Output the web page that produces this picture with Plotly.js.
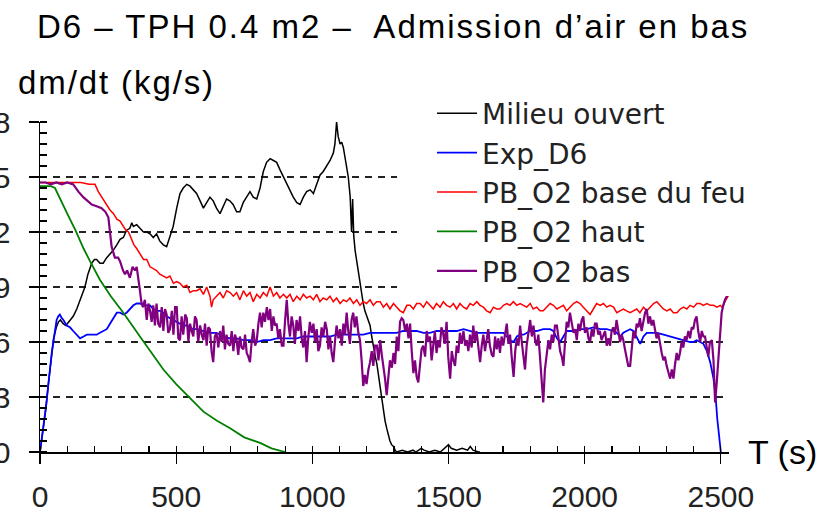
<!DOCTYPE html>
<html>
<head>
<meta charset="utf-8">
<script src="https://cdn.plot.ly/plotly-3.0.1.min.js"></script>
<style>
  html, body { margin: 0; padding: 0; background: #fff; }
  #chart { width: 825px; height: 514px; }
  .gtitle { letter-spacing: 2px; }
  .annotation[data-index="0"] .annotation-text { letter-spacing: 1.9px; }
</style>
</head>
<body>
<div id="chart"></div>
<script>
// ---- Data (time in s, dm/dt in kg/s) ----
const seriesNames = ["Milieu ouvert", "Exp_D6", "PB_O2 base du feu", "PB_O2 haut", "PB_O2 bas"];
const seriesColors = ["#000000", "#0000ff", "#ff0000", "#008000", "#800080"];

const tMilieu = [0,10,20,30,40,50,60,68,75,85,95,105,115,122,135,147,158,165,176,184,190,200,208,220,232,245,257,269,282,294,306,318,330,337,343,355,367,380,392,404,416,428,440,453,465,477,489,502,514,526,539,551,563,575,588,600,612,624,636,648,661,673,685,697,709,722,734,746,759,771,783,796,808,820,832,845,857,869,881,894,906,918,930,943,955,967,979,992,1004,1016,1028,1040,1053,1065,1077,1083,1089,1095,1102,1108,1114,1120,1126,1132,1139,1144,1148,1152,1157,1163,1169,1175,1181,1187,1193,1200,1206,1212,1218,1224,1230,1237,1243,1249,1255,1261,1267,1273,1279,1285,1291,1298,1304,1310,1330,1350,1370,1380,1400,1410,1430,1450,1470,1490,1500,1510,1530,1550,1570,1580,1590,1610,1616];
const yMilieu = [0,0.0010,0.0022,0.0036,0.0050,0.0062,0.0068,0.0071,0.0072,0.0070,0.0069,0.0071,0.0073,0.0074,0.0078,0.0083,0.0087,0.0090,0.0097,0.0101,0.0103,0.0105,0.0105,0.0103,0.0103,0.0106,0.0108,0.0110,0.0113,0.0116,0.0117,0.0121,0.0122,0.0125,0.0123,0.0124,0.0122,0.0120,0.0120,0.0119,0.0117,0.0119,0.0115,0.0113,0.0112,0.0118,0.0123,0.0133,0.0141,0.0144,0.0146,0.0145,0.0143,0.0141,0.0137,0.0133,0.0136,0.0139,0.0137,0.0133,0.0130,0.0134,0.0138,0.0137,0.0135,0.0131,0.0131,0.0136,0.0139,0.0142,0.0139,0.0138,0.0144,0.0153,0.0158,0.0160,0.0159,0.0158,0.0154,0.0150,0.0146,0.0142,0.0139,0.0136,0.0135,0.0139,0.0142,0.0143,0.0141,0.0146,0.0151,0.0153,0.0156,0.0159,0.0163,0.0168,0.0180,0.0172,0.0168,0.0169,0.0166,0.0160,0.0155,0.0150,0.0139,0.0120,0.0138,0.0118,0.0110,0.0104,0.0099,0.0093,0.0088,0.0081,0.0077,0.0074,0.0071,0.0069,0.0063,0.0057,0.0053,0.0048,0.0042,0.0035,0.0028,0.0022,0.0017,0.0013,0.0009,0.0006,0.0004,0.0003,0.0001,0,0.0001,0,0.0001,0,0.0002,0.0001,0,0.0001,0,0.0003,0.0004,0.0002,0.0001,0.0002,0.0001,0.0003,0.0001,0,0];

const tExp = [0,6,12,18,24,30,37,43,49,55,61,67,73,80,86,98,110,122,135,147,160,172,184,196,208,220,233,245,257,270,282,294,306,318,330,343,355,367,380,392,404,416,428,441,453,465,477,490,502,514,526,539,551,563,575,600,624,648,673,698,722,747,771,796,820,845,869,894,918,943,967,992,1016,1040,1065,1089,1114,1138,1163,1187,1212,1236,1261,1285,1310,1334,1359,1383,1408,1432,1456,1481,1506,1530,1555,1579,1604,1628,1653,1677,1702,1714,1726,1739,1751,1763,1776,1800,1824,1848,1873,1885,1898,1910,1922,1934,1959,1983,2008,2032,2057,2081,2106,2118,2130,2142,2154,2167,2179,2191,2204,2216,2228,2241,2265,2290,2314,2339,2363,2387,2399,2411,2424,2436,2449,2461,2473,2481,2487,2493,2497,2500];
const yExp = [0,0.0007,0.0012,0.0018,0.0027,0.0036,0.0047,0.0054,0.0060,0.0066,0.0072,0.0074,0.0075,0.0073,0.0072,0.0069,0.0068,0.0066,0.0064,0.0062,0.0063,0.0064,0.0064,0.0064,0.0064,0.0065,0.0066,0.0067,0.0070,0.0073,0.0076,0.0076,0.0075,0.0076,0.0078,0.0080,0.0081,0.0081,0.0080,0.0080,0.0080,0.0078,0.0077,0.0077,0.0076,0.0074,0.0073,0.0072,0.0071,0.0070,0.0069,0.0069,0.0068,0.0067,0.0067,0.0066,0.0065,0.0065,0.0063,0.0062,0.0062,0.0061,0.0061,0.0060,0.0061,0.0061,0.0062,0.0062,0.0062,0.0062,0.0063,0.0063,0.0063,0.0063,0.0063,0.0064,0.0064,0.0064,0.0064,0.0064,0.0065,0.0065,0.0065,0.0065,0.0065,0.0066,0.0066,0.0066,0.0065,0.0065,0.0066,0.0066,0.0066,0.0066,0.0067,0.0066,0.0065,0.0065,0.0065,0.0065,0.0065,0.0063,0.0061,0.0060,0.0063,0.0064,0.0064,0.0066,0.0066,0.0067,0.0067,0.0066,0.0062,0.0060,0.0063,0.0066,0.0066,0.0067,0.0067,0.0068,0.0067,0.0067,0.0066,0.0065,0.0063,0.0065,0.0066,0.0067,0.0066,0.0063,0.0059,0.0063,0.0065,0.0065,0.0065,0.0064,0.0063,0.0062,0.0061,0.0060,0.0060,0.0061,0.0060,0.0059,0.0055,0.0049,0.0040,0.0030,0.0018,0.0009,0.0003,0];

const tBase = [0,50,100,150,180,202,214,226,240,257,270,282,294,305,315,325,335,345,355,367,380,392,404,416,428,440,453,465,477,490,502,514,526,539,551,563,575,588,600,612,624,630,636,648,661,673,685,698,710,722,734,747,759,771,783,796,808,820,833,845,857,869,881,894,906,918,930,943,955,967,979,992,1004,1016,1028,1040,1053,1065,1077,1089,1102,1114,1126,1138,1151,1163,1175,1187,1199,1212,1224,1236,1249,1261,1273,1285,1298,1310,1322,1334,1347,1359,1371,1383,1396,1408,1420,1432,1444,1456,1469,1481,1493,1506,1518,1530,1542,1555,1567,1579,1591,1604,1616,1628,1640,1653,1665,1677,1689,1702,1714,1726,1738,1751,1763,1775,1787,1800,1811,1824,1836,1848,1860,1873,1885,1898,1910,1922,1934,1946,1959,1971,1983,1995,2008,2020,2032,2044,2057,2069,2081,2093,2106,2118,2130,2142,2154,2167,2179,2191,2203,2216,2228,2240,2253,2265,2277,2289,2302,2314,2326,2339,2351,2363,2375,2387,2400,2412,2424,2436,2449,2461,2473,2486,2498,2505,2515,2525,2534];
const yBase = [0.0147,0.0147,0.0147,0.0147,0.0146,0.0146,0.0142,0.0139,0.0136,0.0132,0.0130,0.0127,0.0126,0.0123,0.0121,0.0120,0.0116,0.0113,0.0111,0.0108,0.0105,0.0105,0.0101,0.0100,0.0099,0.0097,0.0096,0.0095,0.0096,0.0092,0.0093,0.0092,0.0090,0.0091,0.0087,0.0088,0.0088,0.0089,0.0086,0.0090,0.0085,0.0079,0.0083,0.0085,0.0087,0.0084,0.0088,0.0087,0.0085,0.0087,0.0083,0.0088,0.0085,0.0087,0.0082,0.0086,0.0084,0.0087,0.0085,0.0090,0.0085,0.0087,0.0084,0.0086,0.0084,0.0086,0.0082,0.0085,0.0083,0.0086,0.0084,0.0085,0.0083,0.0086,0.0082,0.0084,0.0083,0.0085,0.0082,0.0084,0.0081,0.0083,0.0082,0.0084,0.0081,0.0083,0.0080,0.0082,0.0081,0.0083,0.0080,0.0082,0.0082,0.0079,0.0081,0.0078,0.0081,0.0079,0.0077,0.0076,0.0080,0.0080,0.0078,0.0081,0.0081,0.0079,0.0082,0.0080,0.0078,0.0081,0.0079,0.0082,0.0080,0.0079,0.0081,0.0078,0.0081,0.0079,0.0078,0.0081,0.0080,0.0082,0.0080,0.0079,0.0077,0.0076,0.0079,0.0078,0.0078,0.0080,0.0081,0.0080,0.0082,0.0080,0.0081,0.0080,0.0079,0.0081,0.0078,0.0079,0.0077,0.0077,0.0079,0.0081,0.0080,0.0078,0.0079,0.0080,0.0077,0.0079,0.0081,0.0082,0.0081,0.0079,0.0077,0.0075,0.0078,0.0081,0.0080,0.0081,0.0079,0.0080,0.0079,0.0076,0.0077,0.0078,0.0077,0.0076,0.0077,0.0078,0.0076,0.0079,0.0077,0.0079,0.0081,0.0082,0.0080,0.0078,0.0077,0.0078,0.0076,0.0076,0.0078,0.0079,0.0078,0.0080,0.0079,0.0081,0.0081,0.0080,0.0081,0.0080,0.0080,0.0079,0.0080,0.0079,0.0082,0.0085,0.0087];

const tHaut = [0,20,40,55,80,100,130,160,184,220,260,306,367,420,453,500,539,600,650,698,750,808,850,881,900];
const yHaut = [0.0145,0.0145,0.0145,0.0144,0.0136,0.0130,0.0121,0.0111,0.0104,0.0094,0.0085,0.0076,0.0063,0.0052,0.0045,0.0037,0.0031,0.0022,0.0017,0.0013,0.0008,0.0005,0.0002,0.0001,0];

const tBas = [0,20,40,60,80,100,122,141,159,175,190,208,226,240,251,263,275,287,294,305,312,320,330,340,349,355,360,367,372,378,385,392,398,404,410,416,422,428,434,441,447,453,459,465,471,477,484,490,496,502,508,514,520,526,533,539,545,551,557,563,569,575,581,588,594,600,606,612,618,624,630,636,642,648,655,661,667,673,679,685,691,698,704,710,716,722,728,734,740,747,753,759,765,771,777,783,790,796,802,808,814,820,826,833,839,845,851,857,863,869,875,881,888,894,900,906,912,918,924,930,936,942,949,955,961,967,973,979,985,991,998,1004,1010,1016,1022,1028,1034,1040,1047,1053,1059,1065,1071,1077,1083,1089,1096,1102,1108,1114,1120,1126,1132,1138,1144,1150,1156,1162,1169,1175,1181,1187,1193,1199,1206,1212,1218,1224,1230,1237,1243,1249,1255,1261,1267,1273,1279,1285,1292,1298,1304,1310,1316,1322,1328,1334,1341,1347,1353,1359,1365,1371,1377,1383,1389,1395,1401,1407,1414,1420,1426,1432,1438,1444,1450,1456,1462,1468,1474,1480,1486,1493,1499,1506,1512,1518,1524,1530,1536,1542,1548,1555,1561,1567,1573,1579,1585,1591,1597,1603,1610,1616,1622,1628,1634,1640,1646,1652,1659,1665,1671,1677,1683,1689,1695,1701,1708,1714,1720,1726,1732,1739,1745,1751,1757,1763,1769,1775,1781,1787,1794,1800,1806,1812,1818,1824,1830,1836,1842,1848,1854,1860,1867,1873,1879,1885,1891,1898,1904,1910,1916,1922,1928,1934,1940,1946,1953,1959,1965,1971,1977,1983,1989,1995,2001,2008,2014,2020,2026,2032,2038,2044,2050,2056,2062,2068,2075,2081,2087,2093,2099,2105,2111,2117,2123,2130,2136,2142,2148,2154,2160,2167,2173,2179,2185,2191,2197,2203,2209,2216,2222,2228,2234,2240,2246,2252,2258,2264,2270,2277,2283,2289,2295,2301,2307,2314,2320,2326,2332,2338,2344,2350,2356,2362,2368,2374,2381,2387,2393,2399,2405,2411,2417,2424,2430,2436,2442,2448,2454,2460,2467,2473,2479,2485,2491,2497,2503,2509,2515,2522,2530];
const yBas = [0.0147,0.0147,0.0146,0.0147,0.0146,0.0147,0.0146,0.0142,0.0139,0.0137,0.0135,0.0134,0.0133,0.0131,0.0128,0.0112,0.0106,0.0106,0.0104,0.0099,0.0097,0.0099,0.0095,0.0101,0.0099,0.0101,0.0094,0.0088,0.0082,0.0079,0.0083,0.0072,0.0081,0.0077,0.0071,0.0080,0.0069,0.0081,0.0070,0.0068,0.0079,0.0066,0.0078,0.0075,0.0065,0.0067,0.0077,0.0064,0.0079,0.0079,0.0062,0.0061,0.0074,0.0064,0.0075,0.0073,0.0060,0.0070,0.0066,0.0063,0.0074,0.0072,0.0060,0.0069,0.0064,0.0061,0.0070,0.0058,0.0068,0.0067,0.0055,0.0049,0.0063,0.0065,0.0057,0.0066,0.0060,0.0069,0.0056,0.0064,0.0059,0.0058,0.0066,0.0055,0.0064,0.0061,0.0053,0.0063,0.0057,0.0056,0.0064,0.0054,0.0052,0.0049,0.0060,0.0067,0.0058,0.0061,0.0070,0.0076,0.0068,0.0076,0.0071,0.0079,0.0072,0.0078,0.0066,0.0074,0.0069,0.0070,0.0062,0.0067,0.0058,0.0058,0.0072,0.0083,0.0070,0.0063,0.0074,0.0069,0.0059,0.0072,0.0066,0.0074,0.0062,0.0057,0.0066,0.0049,0.0062,0.0071,0.0065,0.0070,0.0060,0.0067,0.0055,0.0058,0.0068,0.0063,0.0071,0.0067,0.0056,0.0063,0.0054,0.0049,0.0060,0.0069,0.0062,0.0067,0.0058,0.0070,0.0064,0.0076,0.0066,0.0059,0.0072,0.0076,0.0068,0.0074,0.0065,0.0061,0.0050,0.0036,0.0042,0.0037,0.0045,0.0049,0.0055,0.0047,0.0058,0.0058,0.0050,0.0061,0.0053,0.0047,0.0040,0.0031,0.0042,0.0050,0.0046,0.0054,0.0048,0.0063,0.0055,0.0071,0.0073,0.0072,0.0066,0.0070,0.0062,0.0070,0.0055,0.0043,0.0050,0.0041,0.0038,0.0049,0.0056,0.0058,0.0052,0.0066,0.0060,0.0063,0.0050,0.0058,0.0066,0.0054,0.0061,0.0057,0.0068,0.0065,0.0059,0.0071,0.0052,0.0040,0.0055,0.0050,0.0047,0.0058,0.0054,0.0065,0.0059,0.0066,0.0058,0.0061,0.0055,0.0064,0.0057,0.0069,0.0060,0.0066,0.0055,0.0049,0.0058,0.0064,0.0055,0.0060,0.0067,0.0058,0.0053,0.0052,0.0063,0.0056,0.0062,0.0054,0.0063,0.0058,0.0066,0.0070,0.0059,0.0064,0.0052,0.0041,0.0055,0.0062,0.0058,0.0069,0.0060,0.0052,0.0045,0.0058,0.0066,0.0072,0.0063,0.0069,0.0061,0.0058,0.0064,0.0050,0.0040,0.0027,0.0045,0.0052,0.0061,0.0056,0.0064,0.0060,0.0069,0.0069,0.0061,0.0055,0.0052,0.0047,0.0060,0.0071,0.0068,0.0076,0.0070,0.0065,0.0067,0.0061,0.0070,0.0066,0.0072,0.0074,0.0065,0.0068,0.0062,0.0060,0.0067,0.0063,0.0070,0.0070,0.0064,0.0066,0.0061,0.0063,0.0066,0.0058,0.0062,0.0058,0.0066,0.0068,0.0064,0.0072,0.0066,0.0060,0.0064,0.0061,0.0056,0.0052,0.0047,0.0047,0.0058,0.0066,0.0062,0.0070,0.0068,0.0073,0.0066,0.0071,0.0076,0.0078,0.0070,0.0074,0.0069,0.0072,0.0066,0.0062,0.0065,0.0058,0.0054,0.0050,0.0052,0.0047,0.0044,0.0040,0.0045,0.0040,0.0048,0.0054,0.0050,0.0054,0.0060,0.0057,0.0063,0.0061,0.0066,0.0062,0.0068,0.0067,0.0072,0.0074,0.0066,0.0060,0.0066,0.0063,0.0063,0.0058,0.0052,0.0060,0.0061,0.0050,0.0027,0.0038,0.0049,0.0062,0.0076,0.0080,0.0083,0.0085,0.0087];

const xTickVals = [0, 500, 1000, 1500, 2000, 2500];
const yTickVals = [0, 0.003, 0.006, 0.009, 0.012, 0.015, 0.018];

const titleText = "D6 – TPH 0.4 m2 –  Admission d’air en bas";
const yLabelText = "dm/dt (kg/s)";
const xLabelText = "T (s)";

// ---- Traces ----
const xs = [tMilieu, tExp, tBase, tHaut, tBas];
const ys = [yMilieu, yExp, yBase, yHaut, yBas];
const widths = [1.5, 1.8, 1.5, 1.8, 2.2];
const traces = seriesNames.map((n, i) => ({
  type: "scatter", mode: "lines", name: n,
  x: xs[i], y: ys[i],
  line: { color: seriesColors[i], width: widths[i] }
}));

const sansFont = 'Arial, "Liberation Sans", Helvetica, sans-serif';
const tickFont = { family: sansFont, size: 30, color: "#222" };

// plot area: y 122..452 (330 px), x 40..729
const layout = {
  width: 825, height: 514,
  margin: { l: 40, r: 96, t: 122, b: 62 },
  paper_bgcolor: "#fff", plot_bgcolor: "#fff",
  showlegend: true,
  title: {
    text: titleText,
    font: { family: sansFont, size: 33, color: "#000" },
    x: 37 / 825, xanchor: "left", xref: "container",
    y: 0.948, yanchor: "middle", yref: "container"
  },
  xaxis: {
    range: [0, 2530],
    tickvals: xTickVals,
    ticks: "outside", ticklen: 10, tickwidth: 1.2, tickcolor: "#000",
    showline: true, linecolor: "#000", linewidth: 1.5,
    showgrid: false, zeroline: false,
    tickfont: tickFont,
    ticklabelstandoff: 7,
    minor: { dtick: 100, ticks: "inside", ticklen: 6, tickwidth: 1.2, tickcolor: "#000", showgrid: false }
  },
  yaxis: {
    range: [0, 0.018],
    tickvals: yTickVals,
    ticks: "outside", ticklen: 10, tickwidth: 1.2, tickcolor: "#000",
    showline: true, linecolor: "#000", linewidth: 1.5,
    showgrid: true, gridcolor: "#222", gridwidth: 2, griddash: "7px,6px",
    zeroline: false,
    tickfont: tickFont,
    ticklabelstandoff: 12,
    minor: { dtick: 0.0006, ticks: "inside", ticklen: 7, tickwidth: 1.2, tickcolor: "#000", showgrid: false }
  },
  legend: {
    x: (397 - 40) / 689, xanchor: "left",
    y: (452 - 88.5) / 330, yanchor: "top",
    bgcolor: "#fff", borderwidth: 0,
    indentation: 35,
    itemwidth: 40,
    font: { family: "DejaVu Sans, Verdana, sans-serif", size: 28, color: "#222" },
    tracegroupgap: 0
  },
  annotations: [
    {
      text: yLabelText, showarrow: false, align: "left",
      xref: "paper", yref: "paper",
      x: (16 - 40) / 689, xanchor: "left",
      y: (452 - 82) / 330, yanchor: "middle",
      font: { family: sansFont, size: 33, color: "#000" }
    },
    {
      text: xLabelText, showarrow: false, align: "left",
      xref: "paper", yref: "paper",
      x: (746 - 40) / 689, xanchor: "left",
      y: 0, yanchor: "middle",
      font: { family: sansFont, size: 34, color: "#000" }
    }
  ]
};

Plotly.newPlot("chart", traces, layout, { staticPlot: true, displayModeBar: false });
</script>
</body>
</html>
